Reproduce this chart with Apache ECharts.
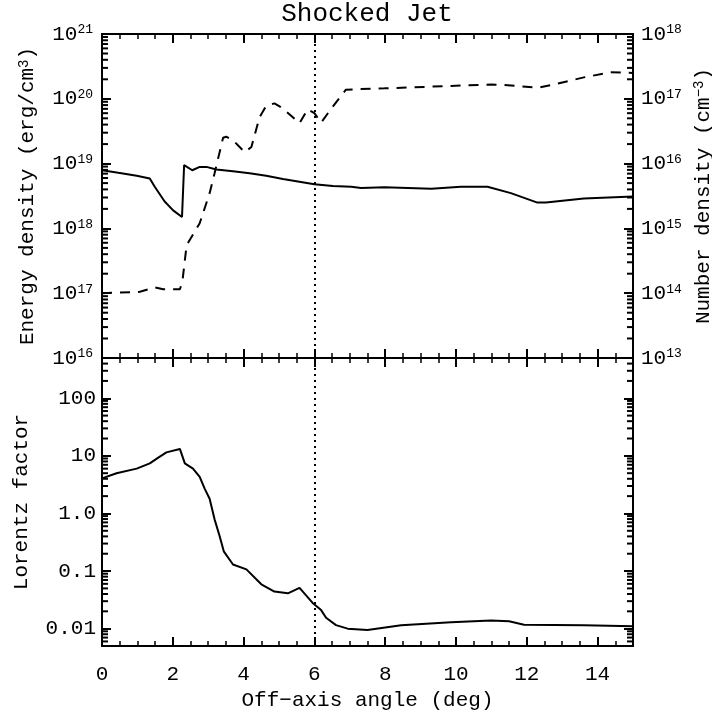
<!DOCTYPE html>
<html>
<head>
<meta charset="utf-8">
<title>Shocked Jet</title>
<script src="https://cdn.jsdelivr.net/npm/echarts@6/dist/echarts.min.js"></script>
<style>
  html, body { margin: 0; padding: 0; background: #fff; }
  #chart { width: 712px; height: 715px; }
</style>
</head>
<body>
<div id="chart"></div>
<script>
// angle (deg) vs energy density (erg/cm^3), solid line
const energyAngle = [0, 0.46, 0.98, 1.35, 1.49, 1.77, 2.01, 2.26, 2.32, 2.55,
  2.76, 2.95, 3.23, 3.70, 4.17, 4.64, 5.11, 6.0, 6.52, 7.04,
  7.32, 7.98, 9.30, 10.14, 10.89, 11.55, 12.30, 12.54, 13.61, 15.0];
const energyDensity = [7.9e18, 7.2e18, 6.5e18, 5.9e18, 4.4e18, 2.6e18, 1.9e18, 1.5e18, 9.5e18, 7.9e18,
  8.9e18, 8.9e18, 8.1e18, 7.6e18, 7.1e18, 6.5e18, 5.8e18, 4.8e18, 4.5e18, 4.4e18,
  4.2e18, 4.3e18, 4.1e18, 4.4e18, 4.4e18, 3.5e18, 2.5e18, 2.5e18, 2.9e18, 3.1e18];

// angle vs number density (cm^-3), dashed line, right axis
const numberAngle = [0, 1.07, 1.49, 1.73, 2.20, 2.27, 2.39, 2.76, 3.04, 3.18,
  3.42, 3.51, 3.70, 4.03, 4.22, 4.45, 4.64, 4.87, 5.11, 5.58,
  5.81, 6.0, 6.19, 6.52, 6.89, 7.22, 7.98, 9.86, 10.99, 11.46,
  12.30, 12.68, 13.61, 14.37, 15.0];
const numberDensity = [1.0e14, 1.05e14, 1.23e14, 1.15e14, 1.15e14, 1.5e14, 5.5e14, 1.2e15, 3.5e15, 7.1e15,
  2.5e16, 2.6e16, 2.3e16, 1.5e16, 1.8e16, 5.2e16, 7.8e16, 8.5e16, 7.1e16, 4.2e16,
  6.9e16, 6.0e16, 4.3e16, 7.6e16, 1.38e17, 1.41e17, 1.45e17, 1.58e17, 1.66e17, 1.62e17,
  1.48e17, 1.62e17, 2.14e17, 2.57e17, 2.51e17];

// angle vs Lorentz factor, lower panel
const lorentzAngle = [0, 0.41, 0.98, 1.35, 1.59, 1.82, 2.20, 2.25, 2.34, 2.57,
  2.76, 2.90, 3.04, 3.18, 3.32, 3.44, 3.70, 4.08, 4.50, 4.87,
  5.25, 5.58, 5.95, 6.19, 6.33, 6.61, 6.94, 7.5, 8.45, 9.86,
  10.99, 11.5, 11.92, 13.61, 15.0];
const lorentzFactor = [4.06, 5.0, 6.0, 7.4, 9.3, 11.5, 13.2, 13.2, 7.4, 6.0,
  4.3, 2.7, 1.8, 0.79, 0.41, 0.22, 0.13, 0.107, 0.059, 0.044,
  0.041, 0.051, 0.028, 0.021, 0.0155, 0.0115, 0.0100, 0.0095, 0.0115, 0.0129,
  0.0138, 0.0135, 0.0117, 0.0115, 0.0110];

const lorentzTickLabels = ["0.01", "0.1", "1.0", "10", "100"];
const markerAngle = 6;

const FONT = "Liberation Mono";
const pairs = (xs, ys) => xs.map((x, i) => [x, ys[i]]);

// log minor ticks (2..9 of each decade), one item per side of the panel
function minorTicks(lo, hi) {
  const out = [];
  for (let e = Math.floor(Math.log10(lo)) - 1; e <= Math.ceil(Math.log10(hi)); e++) {
    for (let m = 2; m <= 9; m++) {
      const v = m * Math.pow(10, e);
      if (v > lo * 1.0001 && v < hi * 0.9999) {
        out.push([0, v]);
        out.push([15, v]);
      }
    }
  }
  return out;
}

function minorTickSeries(xi, yi, lo, hi) {
  return {
    type: "custom",
    xAxisIndex: xi,
    yAxisIndex: yi,
    encode: { x: 0, y: 1 },
    data: minorTicks(lo, hi),
    renderItem: (params, api) => {
      const x = api.value(0);
      const p = api.coord([x, api.value(1)]);
      return {
        type: "line",
        shape: { x1: p[0], y1: p[1], x2: p[0] + (x === 0 ? 6 : -6), y2: p[1] },
        style: { stroke: "#000", lineWidth: 2 }
      };
    }
  };
}

const sup = { fontFamily: FONT, fontSize: 13, verticalAlign: "top", color: "#000" };
const powerLabel = v => "10{sup|" + Math.round(Math.log10(v)) + "}";

function xAxis(grid, pos, labels) {
  return {
    type: "value", gridIndex: grid, position: pos, min: 0, max: 15, interval: 2,
    axisLine: { show: true, onZero: false, lineStyle: { color: "#000", width: 2 } },
    axisTick: { show: true, inside: true, length: 9, lineStyle: { width: 2, color: "#000" } },
    minorTick: { show: true, splitNumber: 4, length: 5, lineStyle: { width: 1.5, color: "#000" } },
    splitLine: { show: false },
    axisLabel: { show: labels, showMaxLabel: false, margin: 18, color: "#000", fontFamily: FONT, fontSize: 21 }
  };
}

function yAxis(grid, pos, lo, hi, label, name, gap) {
  return {
    type: "log", logBase: 10, gridIndex: grid, position: pos, min: lo, max: hi,
    name: name, nameLocation: "middle", nameRotate: 90, nameGap: gap,
    nameTextStyle: { color: "#000", fontFamily: FONT, fontSize: 21, rich: { sup: { fontFamily: FONT, fontSize: 14, verticalAlign: "top", color: "#000" } } },
    axisLine: { show: true, onZero: false, lineStyle: { color: "#000", width: 2 } },
    axisTick: { show: true, inside: true, length: 9, lineStyle: { width: 2, color: "#000" } },
    splitLine: { show: false },
    axisLabel: label
  };
}

const chart = echarts.init(document.getElementById("chart"));
chart.setOption({
  animation: false,
  backgroundColor: "#fff",
  title: {
    text: "Shocked Jet", left: 367, top: 1, textAlign: "center", padding: 0,
    textStyle: { fontFamily: FONT, fontSize: 26, fontWeight: "normal", color: "#000" }
  },
  grid: [
    { left: 102, right: 79, top: 34, height: 324, outerBoundsMode: "none" },
    { left: 102, right: 79, top: 358, height: 288, outerBoundsMode: "none" }
  ],
  xAxis: [
    xAxis(0, "bottom", false),
    xAxis(0, "top", false),
    Object.assign(xAxis(1, "bottom", true), {
      name: "Off\u2212axis angle (deg)", nameLocation: "middle", nameGap: 44,
      nameTextStyle: { color: "#000", fontFamily: FONT, fontSize: 21 }
    }),
    xAxis(1, "top", false)
  ],
  yAxis: [
    yAxis(0, "left", 1e16, 1e21,
      { margin: 9, color: "#000", fontFamily: FONT, fontSize: 21, formatter: powerLabel, rich: { sup: sup } },
      "Energy density (erg/cm{sup|3})", 64),
    yAxis(0, "right", 1e13, 1e18,
      { margin: 8, color: "#000", fontFamily: FONT, fontSize: 21, formatter: powerLabel, rich: { sup: sup } },
      "Number density (cm{sup|\u22123})", 49),
    yAxis(1, "left", 0.005, 500,
      { margin: 6, showMinLabel: false, showMaxLabel: false, color: "#000", fontFamily: FONT, fontSize: 21,
        formatter: v => lorentzTickLabels[Math.round(Math.log10(v)) + 2] || "" },
      "Lorentz factor", 70),
    yAxis(1, "right", 0.005, 500, { show: false }, "", 0)
  ],
  series: [
    {
      type: "line", xAxisIndex: 0, yAxisIndex: 0, showSymbol: false,
      data: pairs(energyAngle, energyDensity),
      lineStyle: { color: "#000", width: 2 },
      markLine: {
        symbol: "none", silent: true, label: { show: false },
        lineStyle: { color: "#000", width: 2, type: [2, 4] },
        data: [{ xAxis: markerAngle }]
      }
    },
    {
      type: "line", xAxisIndex: 0, yAxisIndex: 1, showSymbol: false,
      data: pairs(numberAngle, numberDensity),
      lineStyle: { color: "#000", width: 2, type: [10, 8] }
    },
    {
      type: "line", xAxisIndex: 2, yAxisIndex: 2, showSymbol: false,
      data: pairs(lorentzAngle, lorentzFactor),
      lineStyle: { color: "#000", width: 2 },
      markLine: {
        symbol: "none", silent: true, label: { show: false },
        lineStyle: { color: "#000", width: 2, type: [2, 4] },
        data: [{ xAxis: markerAngle }]
      }
    },
    minorTickSeries(0, 0, 1e16, 1e21),
    minorTickSeries(2, 2, 0.005, 500)
  ]
});
</script>
</body>
</html>
